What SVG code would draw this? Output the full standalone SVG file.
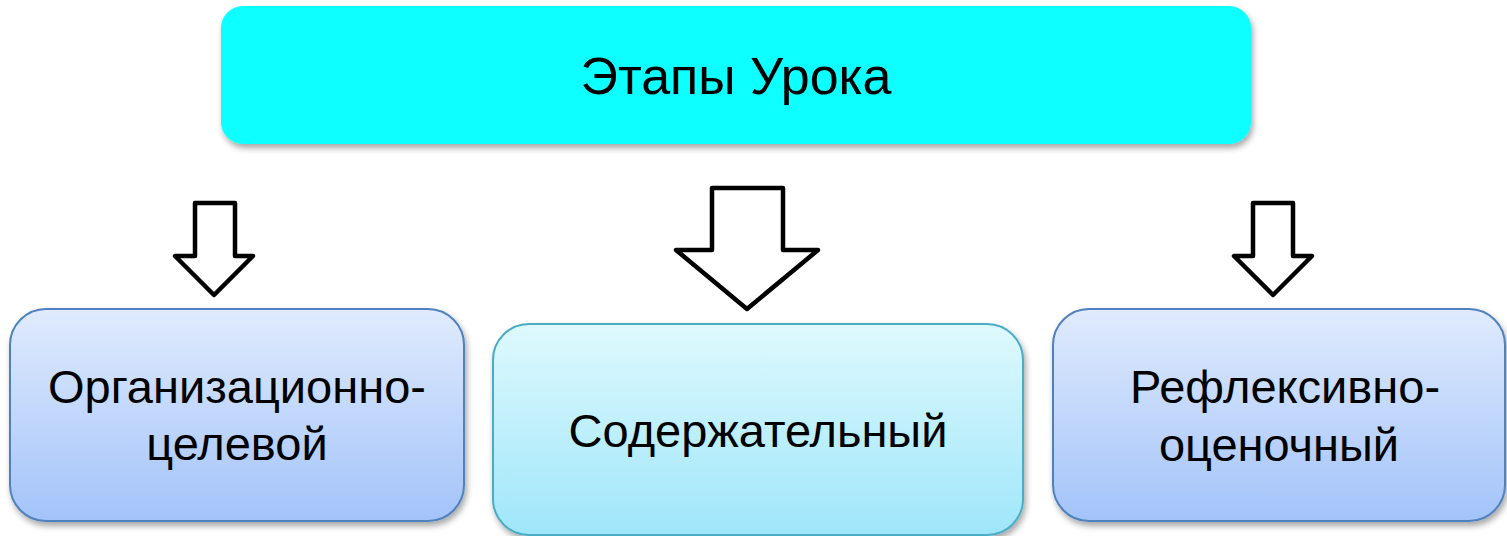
<svg xmlns="http://www.w3.org/2000/svg" width="1507" height="536" viewBox="0 0 1507 536">
<defs>
<filter id="sh" x="-10%" y="-10%" width="120%" height="130%">
<feDropShadow dx="2" dy="4" stdDeviation="3" flood-color="#000" flood-opacity="0.35"/>
</filter>
<linearGradient id="gBlue" x1="0" y1="0" x2="0" y2="1">
<stop offset="0" stop-color="#e0ebfd"/>
<stop offset="1" stop-color="#a3c3f9"/>
</linearGradient>
<linearGradient id="gCyan" x1="0" y1="0" x2="0" y2="1">
<stop offset="0" stop-color="#def9fd"/>
<stop offset="1" stop-color="#9fe6fa"/>
</linearGradient>
</defs>
<style>
.t{font-family:"Liberation Sans",Arial,sans-serif;fill:#000;text-anchor:middle}
.big{font-size:52px}
.lab{font-size:47px}
.arr{fill:#fff;stroke:#000;stroke-width:4.5;stroke-linejoin:round}
.bb{fill:url(#gBlue);stroke:#4f81bd;stroke-width:2}
.cb{fill:url(#gCyan);stroke:#4bacc6;stroke-width:2}
</style>
<rect width="1507" height="536" fill="#fff"/>
<g id="top">
<rect x="221" y="6" width="1030" height="138" rx="22" fill="#08ffff" filter="url(#sh)"/>
<text class="t big" x="736" y="94">Этапы Урока</text>
</g>
<g id="connectors">
<path class="arr" d="M195 203 H235 V256 H253 L214 295 L175 256 H195 Z"/>
<path class="arr" d="M712 188 H783 V250 H818 L747 309 L676 250 H712 Z"/>
<path class="arr" d="M1253 203 H1293 V256 H1312 L1273 295 L1234 256 H1253 Z"/>
</g>
<g id="n1">
<rect class="bb" x="10" y="309" width="454" height="212" rx="36" filter="url(#sh)"/>
<text class="t lab" x="237" y="403">Организационно-</text>
<text class="t lab" x="237" y="460">целевой</text>
</g>
<g id="n2">
<rect class="cb" x="493" y="324" width="530" height="211" rx="36" filter="url(#sh)"/>
<text class="t lab" x="758" y="447">Содержательный</text>
</g>
<g id="n3">
<rect class="bb" x="1053" y="309" width="452" height="212" rx="36" filter="url(#sh)"/>
<text class="t lab" x="1285" y="403">Рефлексивно-</text>
<text class="t lab" x="1279" y="461">оценочный</text>
</g>
</svg>
